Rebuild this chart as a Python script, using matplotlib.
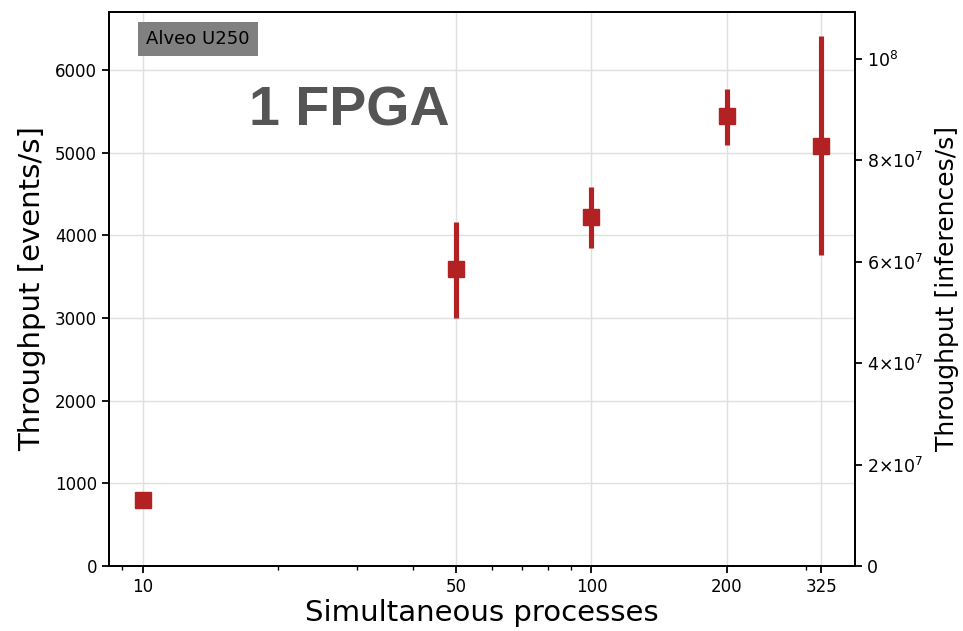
import matplotlib as mpl
import matplotlib.pyplot as plt
import matplotlib.ticker as mticker
import numpy as np

# throughput vs number of client processes on one Alveo U250
processes = [10, 50, 100, 200, 325]
events_per_s = [795, 3590, 4215, 5440, 5085]
err_low = [795, 3000, 3850, 5090, 3760]
err_high = [795, 4155, 4580, 5770, 6405]
inferences_per_event = 16300

xticks = [10, 50, 100, 200, 325]
xticklabels = ['10', '50', '100', '200', '325']
right_ticks = [0, 2e7, 4e7, 6e7, 8e7, 1e8]
right_labels = ['0', r'$2{\times}10^7$', r'$4{\times}10^7$', r'$6{\times}10^7$',
                r'$8{\times}10^7$', r'$10^8$']

mpl.rcParams['font.family'] = 'DejaVu Sans'

fig = plt.figure(figsize=(9.63, 6.31), dpi=100)
ax = fig.add_axes([0.113, 0.103, 0.775, 0.878])

y = np.array(events_per_s)
yerr = [y - np.array(err_low), np.array(err_high) - y]
ax.errorbar(processes, y, yerr=yerr, fmt='s', color='firebrick',
            markersize=11.5, elinewidth=3.7, capsize=0, zorder=3)

ax.set_xscale('log')
ax.set_xlim(8.4, 387)
ax.set_ylim(0, 6700)
ax.set_xticks(xticks)
ax.set_xticklabels(xticklabels)
ax.yaxis.set_major_locator(mticker.MultipleLocator(1000))
ax.grid(True, color='#e0e0e0', linewidth=1)
ax.set_axisbelow(True)
ax.tick_params(labelsize=12, width=1.3, length=5)
ax.tick_params(which='minor', width=1, length=3)
for s in ax.spines.values():
    s.set_linewidth(1.3)

ax.set_xlabel('Simultaneous processes', fontsize=21, labelpad=2)
ax.set_ylabel('Throughput [events/s]', fontsize=21, labelpad=6)

ax2 = ax.twinx()
ax2.set_ylim(0, 6700 * inferences_per_event)
ax2.set_yticks(right_ticks)
ax2.set_yticklabels(right_labels)
ax2.tick_params(labelsize=12.5, width=1.3, length=5)
ax2.set_ylabel('Throughput [inferences/s]', fontsize=18, labelpad=8)
for s in ax2.spines.values():
    s.set_linewidth(1.3)

ax.text(0.05, 0.951, 'Alveo U250', transform=ax.transAxes, fontsize=13,
        va='center', ha='left',
        bbox=dict(facecolor='#808080', edgecolor='none', boxstyle='square,pad=0.45'))
ax.text(0.322, 0.82, '1 FPGA', transform=ax.transAxes, fontsize=40,
        fontweight='bold', color='#555555', family='Liberation Sans',
        ha='center', va='center')

plt.savefig('out.png', dpi=100)
